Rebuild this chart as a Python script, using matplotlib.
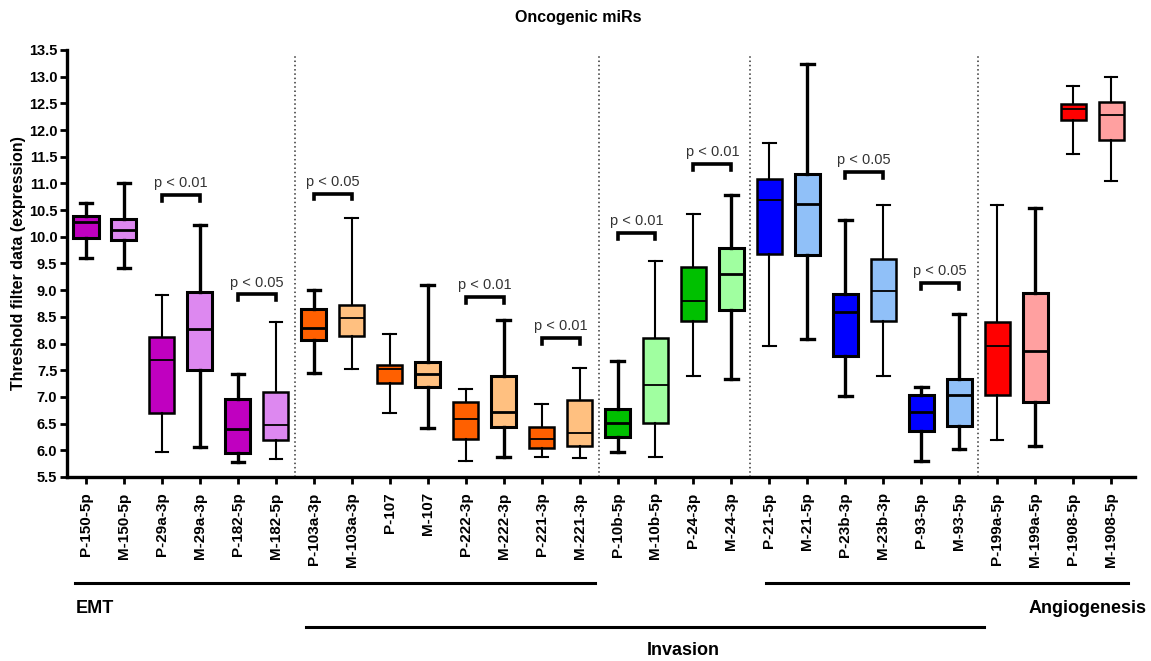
import matplotlib.pyplot as plt
from matplotlib.transforms import blended_transform_factory

plt.rcParams['font.family'] = ['Liberation Sans', 'DejaVu Sans']

# miRNA labels (P = plasma, M = matched sample)
labels = ['P-150-5p', 'M-150-5p', 'P-29a-3p', 'M-29a-3p', 'P-182-5p', 'M-182-5p',
          'P-103a-3p', 'M-103a-3p', 'P-107', 'M-107', 'P-222-3p', 'M-222-3p',
          'P-221-3p', 'M-221-3p', 'P-10b-5p', 'M-10b-5p', 'P-24-3p', 'M-24-3p',
          'P-21-5p', 'M-21-5p', 'P-23b-3p', 'M-23b-3p', 'P-93-5p', 'M-93-5p',
          'P-199a-5p', 'M-199a-5p', 'P-1908-5p', 'M-1908-5p']

# box summary values
wlo = [9.60, 9.42, 5.97, 6.06, 5.78, 5.84, 7.45, 7.52, 6.69, 6.41, 5.80, 5.87,
       5.88, 5.86, 5.96, 5.87, 7.40, 7.33, 7.95, 8.08, 7.01, 7.39, 5.80, 6.02,
       6.19, 6.08, 11.55, 11.05]
q1 = [9.97, 9.94, 6.70, 7.50, 5.94, 6.19, 8.07, 8.15, 7.27, 7.18, 6.21, 6.44,
      6.04, 6.08, 6.25, 6.51, 8.42, 8.63, 9.68, 9.65, 7.76, 8.43, 6.36, 6.46,
      7.04, 6.91, 12.18, 11.81]
med = [10.27, 10.13, 7.69, 8.28, 6.40, 6.47, 8.30, 8.47, 7.52, 7.42, 6.58, 6.72,
       6.22, 6.33, 6.52, 7.23, 8.79, 9.31, 10.68, 10.61, 8.59, 8.98, 6.71, 7.03,
       7.95, 7.86, 12.39, 12.28]
q3 = [10.39, 10.34, 8.13, 8.97, 6.96, 7.10, 8.65, 8.72, 7.59, 7.66, 6.91, 7.39,
      6.43, 6.94, 6.78, 8.10, 9.43, 9.79, 11.08, 11.18, 8.92, 9.58, 7.03, 7.34,
      8.40, 8.95, 12.48, 12.53]
whi = [10.63, 11.01, 8.91, 10.22, 7.42, 8.41, 9.00, 10.35, 8.17, 9.10, 7.14, 8.44,
       6.87, 7.54, 7.68, 9.55, 10.43, 10.78, 11.76, 13.24, 10.32, 10.59, 7.18, 8.56,
       10.60, 10.53, 12.83, 13.00]

colors = ['#C000C0', '#DD88F0'] * 3 + ['#FF6000', '#FFC080'] * 4 + \
         ['#00C000', '#A0FFA0'] * 2 + ['#0000FF', '#90C0F8'] * 3 + \
         ['#FF0000', '#FFA0A0'] * 2
thick = [1, 1, 0, 1, 1, 0, 1, 0, 0, 1, 0, 1, 0, 0, 1, 0, 0, 1, 0, 1, 1, 0, 1, 1,
         0, 1, 0, 0]

# significance pairs: (left index, bracket height, text)
sig_left = [2, 4, 6, 10, 12, 14, 16, 20, 22]
sig_y = [10.78, 8.92, 10.81, 8.87, 8.10, 10.07, 11.36, 11.22, 9.13]
sig_txt = ['p < 0.01', 'p < 0.05', 'p < 0.05', 'p < 0.01', 'p < 0.01',
           'p < 0.01', 'p < 0.01', 'p < 0.05', 'p < 0.05']

groups = ['EMT', 'Invasion', 'Angiogenesis']
group_span = [(-0.29, 13.4), (5.79, 23.66), (17.9, 27.45)]
dividers = [5.5, 13.5, 17.5, 23.5]

fig = plt.figure(figsize=(11.51, 6.61), dpi=100)
ax = fig.add_axes([0.0582, 0.2784, 0.9279, 0.646])

stats = []
for i in range(len(labels)):
    stats.append({'whislo': wlo[i], 'q1': q1[i], 'med': med[i], 'q3': q3[i],
                  'whishi': whi[i], 'label': labels[i]})

bp = ax.bxp(stats, positions=range(len(labels)), widths=0.66, showfliers=False,
            patch_artist=True)
for i, box in enumerate(bp['boxes']):
    lw = 2.4 if thick[i] else 1.5
    box.set_facecolor(colors[i])
    box.set_edgecolor('black')
    box.set_linewidth(2.2 if thick[i] else 1.8)
    bp['medians'][i].set_color('black')
    bp['medians'][i].set_linewidth(2.0 if thick[i] else 1.3)
    for k in (2 * i, 2 * i + 1):
        bp['whiskers'][k].set_color('black')
        bp['whiskers'][k].set_linewidth(lw)
        bp['caps'][k].set_color('black')
        bp['caps'][k].set_linewidth(lw)

for x in dividers:
    ax.axvline(x, ymax=0.985, color='#333333', lw=1.1, linestyle=(0, (1, 1.8)))

for i, y, t in zip(sig_left, sig_y, sig_txt):
    ax.plot([i, i, i + 1, i + 1], [y - 0.11, y, y, y - 0.11], color='black',
            lw=2.6, solid_joinstyle='miter')
    ax.text(i + 0.5, y + 0.09, t, ha='center', va='bottom', fontsize=10.5,
            color='#333333')

ax.set_xlim(-0.5, 27.63)
ax.set_ylim(5.5, 13.5)
ax.set_yticks([5.5 + 0.5 * k for k in range(17)])
ax.set_yticklabels(['%.1f' % (5.5 + 0.5 * k) for k in range(17)],
                   fontsize=10.5, fontweight='bold')
ax.set_xticks(range(len(labels)))
ax.set_xticklabels(labels, rotation=90, fontsize=11, fontweight='bold')
ax.tick_params(axis='both', length=5, width=2, color='black')
ax.tick_params(axis='x', pad=6)
ax.tick_params(axis='y', pad=2)
for s in ('top', 'right'):
    ax.spines[s].set_visible(False)
for s in ('left', 'bottom'):
    ax.spines[s].set_linewidth(2.4)

ax.set_ylabel('Threshold filter data (expression)', fontsize=11.5,
              fontweight='bold', labelpad=2)
fig.text(0.502, 0.973, 'Oncogenic miRs', ha='center', va='center', fontsize=11.5,
         fontweight='bold')

# group bars below the tick labels
tr = blended_transform_factory(ax.transData, fig.transFigure)
line_y = [0.118, 0.0514, 0.118]
for (a, b), y in zip(group_span, line_y):
    ax.plot([a, b], [y, y], color='black', lw=2.2, transform=tr, clip_on=False)
ax.text(-0.27, 0.080, groups[0], transform=tr, ha='left', va='center',
        fontsize=13, fontweight='bold')
ax.text(15.73, 0.0166, groups[1], transform=tr, ha='center', va='center',
        fontsize=13, fontweight='bold')
ax.text(27.93, 0.080, groups[2], transform=tr, ha='right', va='center',
        fontsize=13, fontweight='bold')

fig.savefig('out.png', dpi=100)
